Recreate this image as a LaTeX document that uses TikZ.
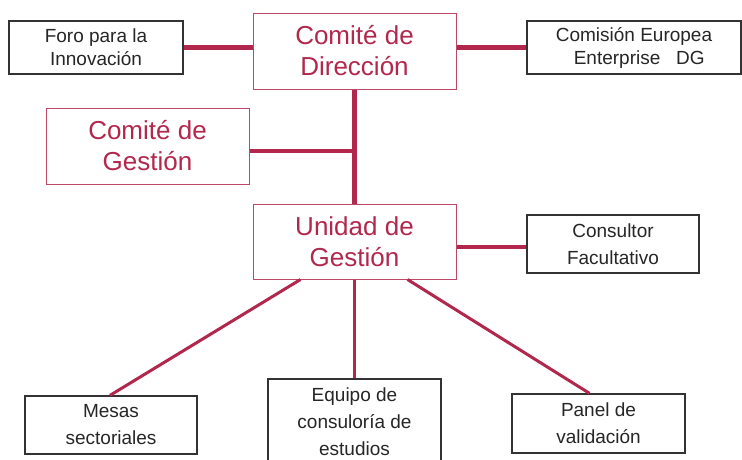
\documentclass[tikz,border=0pt]{standalone}
\usepackage{fontspec}
\setmainfont{Liberation Sans}
\usetikzlibrary{calc}
\definecolor{crim}{RGB}{178,40,76}
\begin{document}
\begin{tikzpicture}[x=1pt,y=-1pt,
 bbox/.style={draw=black!80, line width=1.3pt, inner sep=0pt, align=center, font=\fontsize{19}{23}\selectfont, text=black!85},
 bboxw/.style={bbox, font=\fontsize{19}{27}\selectfont},
 rbox/.style={draw=crim!85, line width=1pt, inner sep=0pt, align=center, font=\fontsize{26}{31}\selectfont, text=crim},
 link/.style={draw=crim, line width=4.5pt},
 thinlink/.style={draw=crim, line width=3pt}]
\useasboundingbox (0,0) rectangle (742,459);
\clip (0,0) rectangle (742,459);
\fill[white] (0,0) rectangle (742,459);
\node[bbox, minimum width=174pt, minimum height=53pt] (foro) at (96,47.5) {Foro para la\\Innovación};
\node[rbox, minimum width=203pt, minimum height=76pt] (cd) at (354.5,51) {Comité de\\Dirección};
\node[bbox, minimum width=214pt, minimum height=53pt] (ce) at (634,47.5) {Comisión Europea\\\ \ Enterprise\ \ \ DG};
\node[rbox, minimum width=203pt, minimum height=76pt] (cg) at (147.5,146) {Comité de\\Gestión};
\node[rbox, minimum width=203pt, minimum height=75pt] (ug) at (354.5,241.5) {Unidad de\\Gestión};
\node[bboxw, minimum width=172pt, minimum height=58pt] (cons) at (613,244) {Consultor\\Facultativo};
\node[bboxw, minimum width=172pt, minimum height=58pt] (mesas) at (111,425) {Mesas\\sectoriales};
\node[bboxw, minimum width=173pt, minimum height=86pt] (equipo) at (354.5,422) {Equipo de\\consuloría de\\estudios};
\node[bboxw, minimum width=173pt, minimum height=59pt] (panel) at (598.5,423.5) {Panel de\\validación};
\coordinate (j1) at (354.5,151);
\coordinate (j2) at (490,247);
\draw[link] (foro.east) -- (foro.east -| cd.west);
\draw[link] (ce.west -| cd.east) -- (ce.west);
\draw[link] (cd.south) -- (ug.north);
\draw[link] (cg.east |- j1) -- (j1);
\draw[link] (ug.east |- j2) -- (cons.west |- j2);
\draw[thinlink] ($(ug.south)+(-54,0)$) -- ($(mesas.north)+(-1,0)$);
\draw[thinlink] (ug.south) -- (equipo.north);
\draw[thinlink] ($(ug.south)+(53,0)$) -- ($(panel.north)+(-9,0)$);
\end{tikzpicture}
\end{document}
